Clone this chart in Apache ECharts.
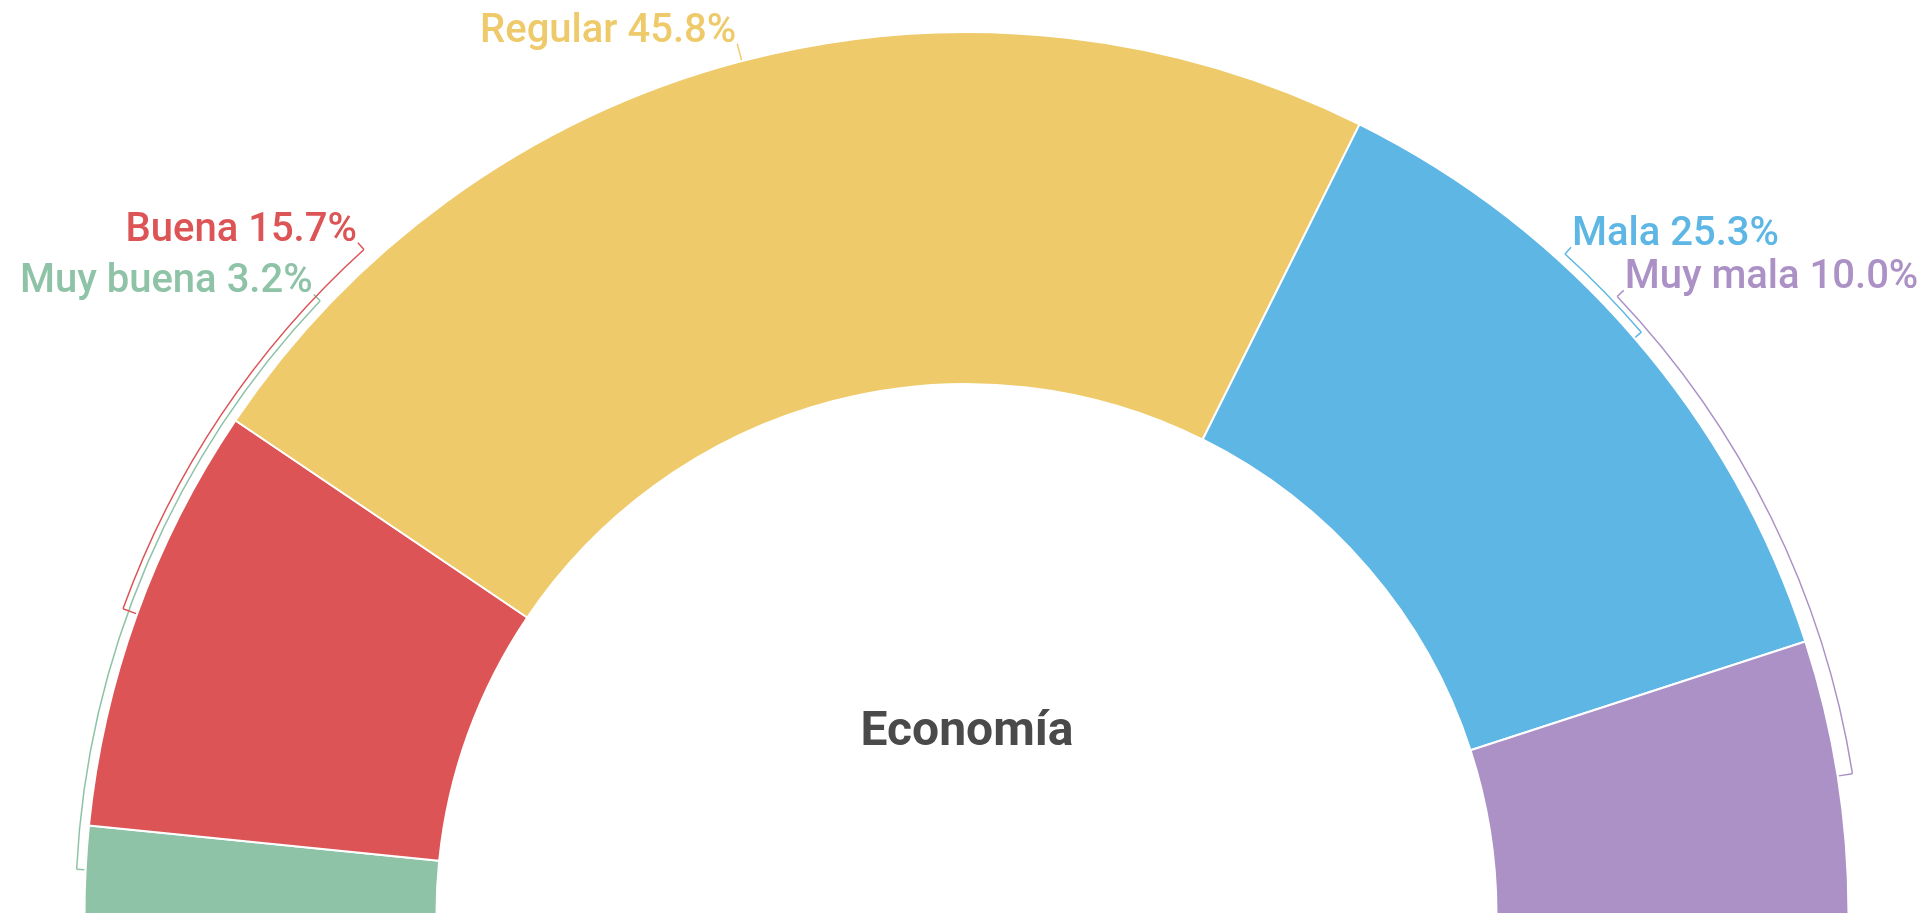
<!DOCTYPE html>
<html>
<head>
<meta charset="utf-8">
<script src="https://cdn.jsdelivr.net/npm/echarts@6/dist/echarts.min.js"></script>
<style>
    html, body { margin: 0; padding: 0; background: #fff; }
    #box1 { width: 1925px; height: 913px; }
</style>
</head>
<body>
<div id="box1"></div>
<script>
// ▼数据
const aCategory = ['Muy buena', 'Buena', 'Regular', 'Mala', 'Muy mala'];
const aShare = [3.2, 15.7, 45.8, 25.3, 10.0];
const aColor = ['#8fc3a7', '#dc5456', '#eeca6a', '#5db6e4', '#ab91c6'];

// ▼标签位置（角度，null = 扇区中点）与引导线半径
const aLabelAngle = [136.5, 132.2, null, 47.8, 43.5];
const aBracketR = [891, 897, 891, 891, 897];

const CX = 966.5, CY = 914; // 半圆圆心
const R_IN = 530, R_OUT = 882;
const D = Math.PI / 180;

const fTotal = aShare.reduce((a, b) => a + b, 0);
const aMidAngle = [];
aShare.reduce((acc, cur) => {
    aMidAngle.push(180 - (acc + cur / 2) / fTotal * 180);
    return acc + cur;
}, 0);

function getPoint(iAngle, r){
    return [CX + r * Math.cos(iAngle * D), CY - r * Math.sin(iAngle * D)];
}

const aLine = aCategory.map((name, idx) => {
    const mid = aMidAngle[idx];
    const lab = aLabelAngle[idx] == null ? mid : aLabelAngle[idx];
    return {
        name,
        value: [mid, lab, aBracketR[idx]],
        itemStyle: { color: aColor[idx] },
    };
});

const myChart = echarts.init(document.getElementById('box1'));
const option = {
    backgroundColor: '#fff',
    animation: false,
    title: {
        text: 'Economía',
        left: 962,
        top: 704,
        textAlign: 'center',
        textStyle: { fontFamily: 'Roboto', fontSize: 48, fontWeight: 'bold', color: '#4a4a4a' },
    },
    series: [{
        type: 'pie',
        center: [CX, CY],
        radius: [R_IN, R_OUT],
        startAngle: 180,
        endAngle: 0,
        clockwise: true,
        avoidLabelOverlap: false,
        itemStyle: { borderColor: '#fff', borderWidth: 2 },
        label: {
            show: true,
            position: 'outside',
            fontFamily: 'Roboto',
            fontSize: 40,
            fontWeight: 500,
            color: 'inherit',
            formatter: p => `${p.name} ${p.value.toFixed(1)}%`,
        },
        labelLine: { show: false },
        labelLayout: params => {
            const idx = params.dataIndex;
            const lab = aLine[idx].value[1];
            const rb = aLine[idx].value[2];
            const [x, y] = getPoint(lab, rb + 9);
            const isLeft = lab > 90;
            return {
                x: isLeft ? x - 1 : x + 1,
                y: y - 12,
                align: isLeft ? 'right' : 'left',
                verticalAlign: 'middle',
            };
        },
        emphasis: { disabled: true },
        data: aCategory.map((name, idx) => ({
            name,
            value: aShare[idx],
            itemStyle: { color: aColor[idx] },
            label: { color: aColor[idx] },
        })),
    }, {
        type: 'custom',
        coordinateSystem: 'none',
        silent: true,
        renderItem: (params, api) => {
            const mid = api.value(0), lab = api.value(1), rb = api.value(2);
            const color = api.visual('color');
            const a1 = -mid * D, a2 = -lab * D;
            const oStyle = { stroke: color, fill: null, lineWidth: 1.5 };
            return {
                type: 'group',
                children: [{
                    type: 'polyline',
                    shape: { points: [getPoint(mid, R_OUT + 1), getPoint(mid, rb)] },
                    style: oStyle,
                }, {
                    type: 'arc',
                    shape: { cx: CX, cy: CY, r: rb, startAngle: Math.min(a1, a2), endAngle: Math.max(a1, a2), clockwise: true },
                    style: oStyle,
                }, {
                    type: 'polyline',
                    shape: { points: [getPoint(lab, rb), getPoint(lab, rb + 9)] },
                    style: oStyle,
                }],
            };
        },
        data: aLine,
    }],
};
myChart.setOption(option);
</script>
</body>
</html>
